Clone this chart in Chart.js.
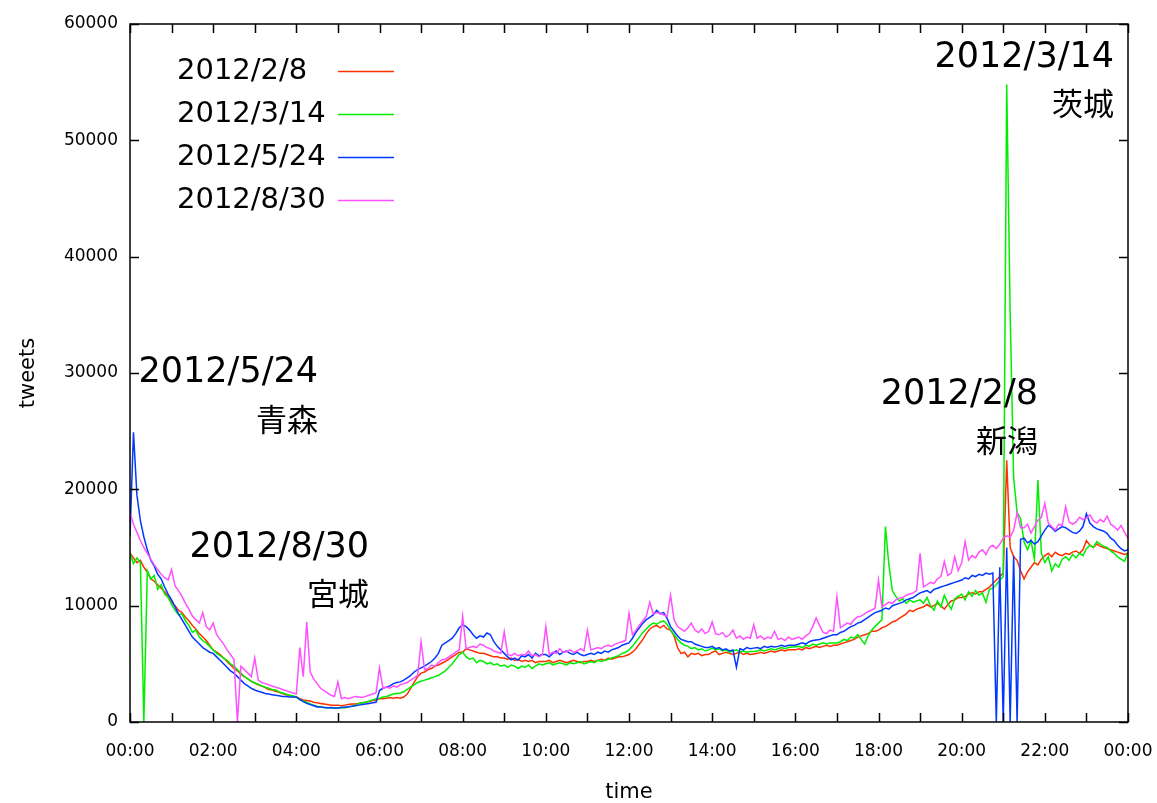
<!DOCTYPE html>
<html>
<head>
<meta charset="utf-8">
<script src="https://cdn.jsdelivr.net/npm/chart.js@4.4.0/dist/chart.umd.min.js"></script>
<style>
body { margin: 0; background: #fff; }
</style>
</head>
<body>
<canvas id="c" width="1157" height="803"></canvas>
<script>
// one value every 5 minutes, 00:00 .. 24:00 (one row per hour)
const stepMin = 5;
const seriesNames = ['2012/2/8', '2012/3/14', '2012/5/24', '2012/8/30'];
const seriesColors = ['#ff3000', '#00ee00', '#0038ff', '#ff50ff'];

const feb8 = [
  14500,14100,13700,13900,13300,12900,12300,12100,11800,11500,11200,10800,
  10300,10000,9600,9400,9000,8700,8300,8000,7600,7300,7000,6600,
  6200,6000,5800,5500,5200,4900,4600,4400,4100,3900,3700,3500,
  3350,3200,3100,2950,2800,2750,2650,2550,2450,2350,2300,2200,
  2150,2000,1900,1850,1800,1700,1650,1600,1550,1500,1450,1450,
  1450,1400,1450,1500,1550,1550,1600,1650,1700,1750,1850,1900,
  2000,2000,2050,2100,2050,2100,2050,2150,2400,2900,3400,3900,
  4200,4300,4500,4600,4800,4900,5050,5200,5400,5600,5800,6000,
  6000,6300,6200,6100,6000,5900,5900,5800,5700,5600,5600,5500,
  5500,5400,5500,5300,5400,5200,5300,5200,5300,5100,5200,5200,
  5200,5300,5100,5200,5300,5200,5100,5200,5300,5200,5100,5200,
  5200,5300,5200,5300,5400,5300,5500,5400,5500,5600,5600,5700,
  5800,6000,6300,6700,7100,7600,8000,8200,8300,8100,8300,8000,
  7900,7400,6400,5900,6000,5600,5900,5800,5900,5700,5800,5800,
  6000,6100,5800,5900,6000,5900,5800,5900,6000,5800,5900,5800,
  5850,5900,6000,5900,6000,6100,6000,6100,6200,6100,6200,6200,
  6200,6300,6200,6400,6300,6400,6500,6400,6500,6600,6500,6600,
  6600,6700,6800,6900,7000,7100,7300,7400,7500,7600,7800,7800,
  7900,8100,8200,8400,8600,8700,8900,9100,9300,9600,9500,9700,
  9800,9900,10100,9900,10000,10200,10000,9700,10100,10400,10500,10700,
  10700,10800,11000,11100,11000,11200,11200,11400,11600,11900,12200,12500,
  12800,22500,15000,14200,13900,13000,12300,12900,13300,13700,13500,14000,
  14300,14500,14200,14600,14400,14300,14500,14400,14600,14700,14500,14800,
  15600,15200,15000,15300,15100,15000,14900,14800,14700,14600,14500,14400,
  14500
];

const mar14 = [
  14500,13600,14100,13700,0,13000,12300,12600,11400,11800,11000,10700,
  10100,9600,9200,9300,8700,8300,7700,7900,7300,7000,6800,6500,
  6200,5900,5700,5500,5300,5000,4800,4500,4200,3900,3700,3500,
  3350,3250,3100,3000,2900,2800,2750,2600,2500,2400,2300,2250,
  2150,1900,1800,1700,1550,1450,1350,1300,1250,1250,1200,1200,
  1200,1250,1200,1300,1350,1450,1600,1650,1700,1800,1900,2000,
  2050,2150,2200,2300,2400,2450,2500,2600,2800,3000,3200,3400,
  3500,3600,3700,3800,3900,4000,4200,4400,4700,5000,5400,5800,
  6000,5600,5400,5500,5100,5300,5200,5000,5100,4900,5000,4800,
  4900,4700,4900,4800,4600,4800,4700,4900,4600,4800,5000,4900,
  5000,5100,4900,5000,5100,5000,4900,5100,5000,5100,5200,5000,
  5100,5200,5100,5300,5200,5300,5400,5500,5600,5700,5900,6000,
  6200,6500,6900,7300,7700,8000,8300,8500,8400,8600,8700,8400,
  7900,7500,7100,6800,6600,6500,6300,6400,6200,6300,6100,6200,
  6350,6200,6300,6100,6200,6000,6100,6200,6000,6100,6000,6050,
  6050,6100,6200,6100,6200,6300,6200,6300,6400,6300,6400,6450,
  6450,6500,6400,6600,6500,6700,6600,6700,6800,6700,6800,6800,
  6800,6900,7100,7000,7300,7200,7500,7100,6700,7400,7900,8200,
  8500,8800,16800,13500,11300,10800,10400,10600,10200,10500,10300,10400,
  10500,10200,10700,10000,9600,10400,9900,10900,10200,9700,10600,10800,
  11000,10500,11200,10800,11300,10900,11100,10300,11400,11500,11800,12200,
  12500,54800,35000,21000,18000,17500,15500,14800,15600,14000,20800,14500,
  13700,14200,13000,13600,13300,14000,14200,13900,14400,14100,14500,14300,
  14900,15200,15000,15500,15300,15100,15000,14700,14500,14200,14000,13800,
  14600
];

const may24 = [
  16000,24900,19500,17300,15900,14800,13900,13400,12700,12300,11600,11000,
  10500,9900,9300,8800,8300,7800,7300,7000,6700,6400,6200,6000,
  5900,5600,5300,5000,4700,4400,4200,3900,3600,3300,3100,2900,
  2750,2650,2550,2450,2400,2350,2300,2250,2200,2200,2150,2150,
  2150,1950,1750,1600,1500,1400,1300,1300,1250,1200,1250,1200,
  1200,1250,1300,1300,1350,1400,1450,1500,1550,1600,1650,1700,
  2700,2900,3000,3100,3300,3400,3450,3600,3800,4000,4300,4500,
  4650,4800,5000,5200,5500,5900,6600,6800,7000,7200,7600,8100,
  8350,8200,7900,7500,7200,7400,7300,7650,7500,6900,6500,6200,
  5900,5600,5350,5500,5300,5700,5600,5800,5500,5900,5700,5800,
  5800,5600,5900,6100,5800,6000,6100,5900,5800,6000,5800,5700,
  5800,5900,5800,6000,5900,6100,6000,6200,6300,6400,6600,6700,
  6800,7200,7700,8100,8500,8800,9000,9200,9600,9300,9400,8900,
  8200,7800,7400,7100,7000,6900,6900,6700,6600,6500,6400,6400,
  6500,6300,6400,6200,6300,6100,6200,4700,6300,6200,6400,6300,
  6350,6400,6300,6500,6400,6500,6450,6500,6600,6500,6600,6600,
  6600,6700,6800,6700,6900,7000,7050,7100,7200,7300,7400,7500,
  7500,7700,7800,8000,8200,8300,8500,8600,8800,9000,9200,9400,
  9500,9600,9800,9700,10000,10100,10200,10300,10500,10600,10700,10900,
  11100,11200,11300,11100,11400,11500,11600,11700,11800,11900,12000,12100,
  12200,12400,12300,12600,12500,12700,12600,12800,12700,12800,0,13300,
  0,15000,0,14300,0,15700,15800,15400,15600,15300,15500,16000,
  16500,16900,16700,16400,16600,16800,16700,16500,16300,16200,16400,16800,
  17900,17100,16800,16600,16500,16400,16200,15800,15600,15200,14900,14700,
  14800
];

const aug30 = [
  18000,17000,16300,15600,15000,14500,14000,13500,13100,12700,12400,12200,
  13100,11700,11300,10800,10200,9700,9100,8800,8500,9400,8200,7900,
  8500,7500,7100,6700,6200,5800,5400,0,4800,4500,4200,3900,
  5500,3600,3400,3300,3200,3100,3000,2900,2800,2700,2600,2500,
  2400,6400,3900,8600,4300,3700,3300,2900,2700,2500,2300,2200,
  3450,2000,2100,2000,2100,2200,2150,2100,2200,2300,2400,2500,
  4650,2900,3000,2900,3100,3000,3200,3300,3400,3600,3800,4000,
  6900,4500,4600,4900,4800,5100,5350,5400,5600,5800,6000,6200,
  9100,6300,6400,6500,6400,6700,6600,6400,6300,6100,6000,5900,
  7750,5800,5700,5900,5700,5800,5750,6100,5700,5800,5600,5800,
  8200,5800,6000,5900,6300,6000,6050,6200,6000,6100,6300,6100,
  7900,6200,6300,6400,6300,6500,6600,6500,6700,6800,6900,7000,
  9350,7500,7900,8300,8700,9100,10300,9300,9400,9350,9200,9100,
  10900,8800,8200,8000,7800,8100,8500,7900,7700,8000,7600,7800,
  8600,7600,7500,7700,7300,7500,7900,7200,7400,7100,7300,7200,
  8350,7200,7400,7100,7300,7200,7800,7100,7200,7000,7300,7100,
  7200,7300,7100,7400,7600,8200,8950,8300,7700,7600,7900,7800,
  10750,8100,8300,8500,8400,8800,9050,9100,9300,9500,9600,9800,
  12200,9900,10100,10300,10200,10500,10650,10700,10900,11000,11100,11300,
  14500,11600,11800,12000,11900,12300,12500,13800,12600,12800,14200,13000,
  13700,15500,13900,14300,14100,14600,14800,14400,15000,15200,14900,15300,
  15800,16000,15900,16500,18000,16700,16700,17000,16250,16800,17350,17600,
  18800,17100,16800,16500,17000,16900,18500,17200,17000,17200,17600,17400,
  17550,17800,17300,17100,17400,17200,17700,17000,16800,16500,16900,16300,
  15800
];

const seriesValues = [feb8, mar14, may24, aug30];

// text written on the plot: [date, place]
const notes = [
  ['2012/3/14', '茨城'],
  ['2012/5/24', '青森'],
  ['2012/8/30', '宮城'],
  ['2012/2/8', '新潟']
];

function pad2(n) { return (n < 10 ? '0' : '') + n; }

const datasets = seriesValues.map((vals, k) => ({
  label: seriesNames[k],
  data: vals.map((v, i) => ({ x: i * stepMin, y: v })),
  borderColor: seriesColors[k],
  borderWidth: 1.5,
  pointRadius: 0,
  tension: 0,
  order: 4 - k
}));

const FONT = "'DejaVu Sans', 'Noto Sans CJK JP', sans-serif";

const frame = {
  id: 'frame',
  afterDatasetsDraw(chart) {
    const { ctx, chartArea: a, scales: { x, y } } = chart;
    ctx.save();
    ctx.strokeStyle = '#000';
    ctx.lineWidth = 1.5;
    ctx.strokeRect(a.left, a.top, a.right - a.left, a.bottom - a.top);
    ctx.beginPath();
    x.ticks.forEach(t => {
      const px = Math.round(x.getPixelForValue(t.value)) + 0.5;
      ctx.moveTo(px, a.bottom); ctx.lineTo(px, a.bottom - 9);
      ctx.moveTo(px, a.top); ctx.lineTo(px, a.top + 9);
    });
    y.ticks.forEach(t => {
      const py = Math.round(y.getPixelForValue(t.value)) + 0.5;
      ctx.moveTo(a.left, py); ctx.lineTo(a.left + 9, py);
      ctx.moveTo(a.right, py); ctx.lineTo(a.right - 9, py);
    });
    ctx.stroke();

    // legend
    ctx.fillStyle = '#000';
    ctx.textBaseline = 'middle';
    ctx.textAlign = 'left';
    ctx.font = '29px ' + FONT;
    seriesNames.forEach((name, k) => {
      const ly = 71 + k * 43;
      ctx.fillText(name, 177, ly);
      ctx.strokeStyle = seriesColors[k];
      ctx.lineWidth = 1.3;
      ctx.beginPath();
      ctx.moveTo(338, ly + 0.5);
      ctx.lineTo(394, ly + 0.5);
      ctx.stroke();
    });

    // event labels
    const spots = [[1114, 58, 107], [318, 373, 423], [369, 548, 597], [1038, 395, 444]];
    ctx.textAlign = 'right';
    notes.forEach((n, k) => {
      const [rx, y1, y2] = spots[k];
      ctx.font = '35px ' + FONT;
      ctx.fillText(n[0], rx, y1);
      ctx.font = '31px ' + FONT;
      ctx.fillText(n[1], rx, y2);
    });
    ctx.restore();
  }
};

new Chart(document.getElementById('c'), {
  type: 'line',
  data: { datasets },
  options: {
    responsive: false,
    animation: false,
    events: [],
    layout: { padding: { left: 0, top: 24, right: 29, bottom: 0 } },
    plugins: { legend: { display: false }, tooltip: { enabled: false } },
    scales: {
      x: {
        type: 'linear',
        min: 0,
        max: 1440,
        grid: { display: false, drawTicks: false },
        border: { display: false },
        afterFit: s => { s.height = 81; s.paddingLeft = 0; s.paddingRight = 0; },
        ticks: {
          stepSize: 60,
          autoSkip: false,
          maxRotation: 0,
          padding: 19,
          color: '#000',
          font: { family: FONT, size: 17 },
          callback: v => (v % 120 === 0 ? pad2((v / 60) % 24) + ':00' : '')
        },
        title: { display: true, text: 'time', color: '#000', font: { family: FONT, size: 21, lineHeight: 1 }, padding: 0 }
      },
      y: {
        min: 0,
        max: 60000,
        grid: { display: false, drawTicks: false },
        border: { display: false },
        afterFit: s => { s.width = 130; s.paddingTop = 0; s.paddingBottom = 0; },
        ticks: {
          stepSize: 10000,
          padding: 12,
          color: '#000',
          font: { family: FONT, size: 17 },
          callback: v => String(v)
        },
        title: { display: true, text: 'tweets', color: '#000', font: { family: FONT, size: 21, lineHeight: 1 }, padding: { top: 18, bottom: 0 } }
      }
    }
  },
  plugins: [frame]
});
</script>
</body>
</html>
